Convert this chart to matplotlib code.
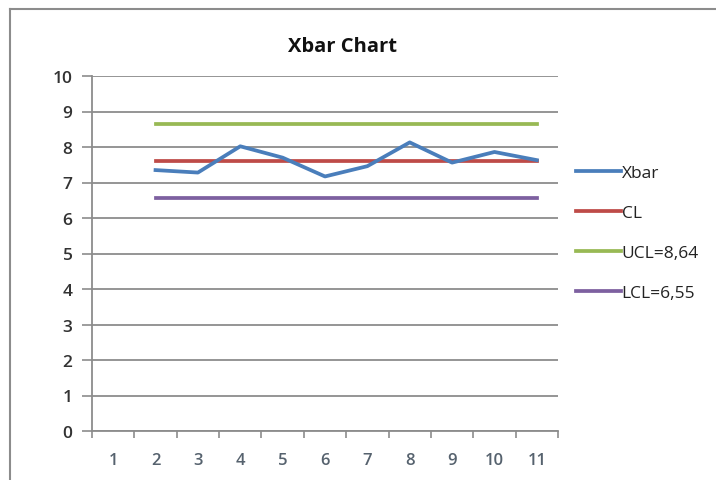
import matplotlib
matplotlib.use("Agg")
import matplotlib.pyplot as plt
from matplotlib.lines import Line2D
import numpy as np

categories = ["1", "2", "3", "4", "5", "6", "7", "8", "9", "10", "11"]
xbar = [None, 7.35, 7.28, 8.02, 7.70, 7.17, 7.46, 8.13, 7.56, 7.86, 7.63]
cl_value = 7.60
ucl_value = 8.64
lcl_value = 6.55
y_ticks = [0, 1, 2, 3, 4, 5, 6, 7, 8, 9, 10]

plt.rcParams["font.family"] = ["Open Sans", "DejaVu Sans"]

fig = plt.figure(figsize=(7.16, 4.81), dpi=100)
ax = fig.add_axes([92 / 716, 1 - 432 / 481, (558 - 92) / 716, (432 - 77) / 481])

pos = np.arange(len(categories))
valid = [i for i, v in enumerate(xbar) if v is not None]
xs = pos[valid]
ys = [xbar[i] for i in valid]

ax.plot(xs, ys, color="#4a7ebb", lw=2.7, label="Xbar", zorder=5)
ax.plot(xs, [cl_value] * len(xs), color="#be4b48", lw=2.7, label="CL", zorder=4)
ax.plot(xs, [ucl_value] * len(xs), color="#98b954", lw=2.7,
        label="UCL=" + f"{ucl_value:.2f}".replace(".", ","), zorder=4)
ax.plot(xs, [lcl_value] * len(xs), color="#7d60a0", lw=2.7,
        label="LCL=" + f"{lcl_value:.2f}".replace(".", ","), zorder=4)

ax.set_xlim(-0.5, len(categories) - 0.5)
ax.set_ylim(0, 10)
ax.set_yticks(y_ticks)
ax.set_yticklabels([str(t) for t in y_ticks], fontweight="semibold")
ax.yaxis.grid(True, color="#8c8c8c", lw=1.3)
ax.set_axisbelow(True)

# category ticks sit between categories, labels at category centres
ax.set_xticks(np.arange(-0.5, len(categories) + 0.5, 1.0))
ax.set_xticklabels([])
ax.set_xticks(pos, minor=True)
ax.set_xticklabels(categories, minor=True, fontweight="semibold")
ax.tick_params(axis="x", which="major", length=5, width=1.2, color="#8c8c8c", direction="out")
ax.tick_params(axis="x", which="minor", length=0, pad=15, labelsize=12, labelcolor="#56626e")
ax.tick_params(axis="y", length=7, width=1.2, color="#8c8c8c", direction="out",
               labelsize=12.5, labelcolor="#333333", pad=7)

for side in ("top", "right"):
    ax.spines[side].set_visible(False)
for side in ("left", "bottom"):
    ax.spines[side].set_color("#8c8c8c")
    ax.spines[side].set_linewidth(1.3)

fig.text(342 / 716, 1 - 47 / 481, "Xbar Chart", ha="center", va="center",
         fontsize=14.5, fontweight="bold", color="#111111")

handles, labels = ax.get_legend_handles_labels()
fig.legend(handles, labels, loc="upper left", bbox_to_anchor=(560 / 716, 1 - 150 / 481),
           frameon=False, fontsize=12.5, handlelength=2.6, handletextpad=0.05,
           labelspacing=1.38, labelcolor="#222222")

# chart frame (top and left edges visible)
fig.add_artist(Line2D([10 / 716, 10 / 716], [0, 1 - 10 / 481], transform=fig.transFigure,
                      color="#8c8c8c", lw=1.5))
fig.add_artist(Line2D([10 / 716, 1], [1 - 10 / 481, 1 - 10 / 481], transform=fig.transFigure,
                      color="#8c8c8c", lw=1.5))

fig.savefig("out.png", dpi=100)
